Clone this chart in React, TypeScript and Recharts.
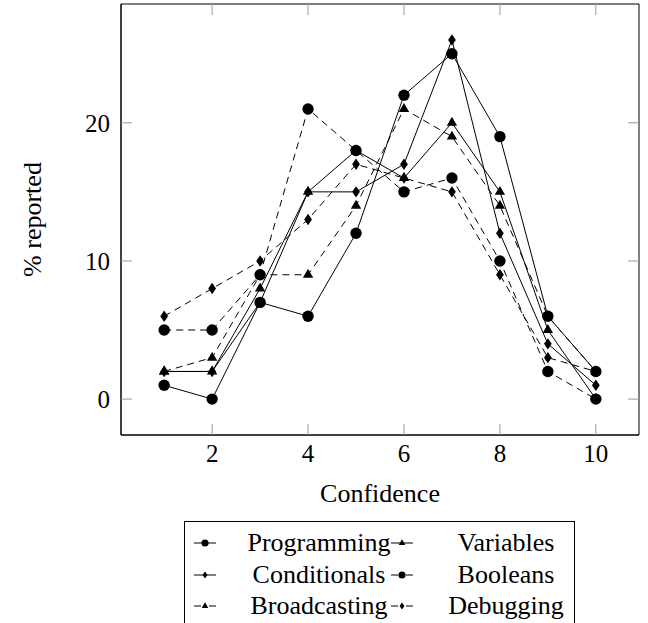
import React from 'react'
import { LineChart, Line, XAxis, YAxis, Label } from 'recharts'

// confidence levels on the x axis
const confidence = [1, 2, 3, 4, 5, 6, 7, 8, 9, 10]
const xTicks = [2, 4, 6, 8, 10]
const yTicks = [0, 10, 20]

// % reported per confidence level
const programming = [1, 0, 7, 6, 12, 22, 25, 19, 6, 2]
const variables = [2, 2, 8, 15, 18, 16, 20, 15, 5, 0]
const conditionals = [2, 2, 7, 15, 15, 17, 26, 12, 4, 1]
const booleans = [5, 5, 9, 21, 18, 15, 16, 10, 2, 0]
const broadcasting = [2, 3, 9, 9, 14, 21, 19, 14, 6, 2]
const debugging = [6, 8, 10, 13, 17, 16, 15, 9, 3, 2]

const FONT = '"Liberation Serif", "Times New Roman", serif'

type Mark = 'circle' | 'triangle' | 'diamond'

const series: { key: string; name: string; values: number[]; mark: Mark; dashed: boolean }[] = [
  { key: 'programming', name: 'Programming', values: programming, mark: 'circle', dashed: false },
  { key: 'variables', name: 'Variables', values: variables, mark: 'triangle', dashed: false },
  { key: 'conditionals', name: 'Conditionals', values: conditionals, mark: 'diamond', dashed: false },
  { key: 'booleans', name: 'Booleans', values: booleans, mark: 'circle', dashed: true },
  { key: 'broadcasting', name: 'Broadcasting', values: broadcasting, mark: 'triangle', dashed: true },
  { key: 'debugging', name: 'Debugging', values: debugging, mark: 'diamond', dashed: true },
]

const data = confidence.map((c, i) => {
  const row: any = { conf: c }
  series.forEach(s => { row[s.key] = s.values[i] })
  return row
})

function shape(mark: Mark, cx: number, cy: number, size: number, key?: any) {
  if (mark === 'circle') return <circle key={key} cx={cx} cy={cy} r={size} fill="#000" />
  if (mark === 'triangle') {
    const r = size * 1.05
    const pts = `${cx},${cy - r} ${cx - r * 0.866},${cy + r / 2} ${cx + r * 0.866},${cy + r / 2}`
    return <polygon key={key} points={pts} fill="#000" />
  }
  const h = size, w = size * 0.68
  const pts = `${cx},${cy - h} ${cx + w},${cy} ${cx},${cy + h} ${cx - w},${cy}`
  return <polygon key={key} points={pts} fill="#000" />
}

// tick lines only, no label
const NoLabel = () => <g />

// axis titles drawn from the axis viewBox
const XTitle = (p: any) => {
  const vb = p.viewBox
  return <text x={vb.x + vb.width / 2} y={vb.y + 67} textAnchor="middle" fontFamily={FONT} fontSize={26} fill="#000">Confidence</text>
}
const YTitle = (p: any) => {
  const vb = p.viewBox
  const x = vb.x + 41, y = vb.y + vb.height / 2
  return <text x={x} y={y} transform={`rotate(-90, ${x}, ${y})`} textAnchor="middle" fontFamily={FONT} fontSize={26} fill="#000">% reported</text>
}

function Legend() {
  const markX = [20, 217]
  const textX = [134, 321]
  const rowY = [21, 53, 84]
  return (
    <div style={{ position: 'absolute', left: 184, top: 521, width: 391, height: 106, border: '1px solid #000', boxSizing: 'border-box', background: '#fff' }}>
      <svg width={389} height={104} style={{ display: 'block' }}>
        {series.map((s, i) => {
          const col = i % 2, row = Math.floor(i / 2)
          const mx = markX[col], y = rowY[row]
          return (
            <g key={s.key}>
              <line x1={mx - 11} x2={mx + 11} y1={y} y2={y} stroke="#000" strokeWidth={1} strokeDasharray={s.dashed ? '7 8' : undefined} />
              {shape(s.mark, mx, y, 3.6)}
              <text x={textX[col]} y={y + 8} textAnchor="middle" fontFamily={FONT} fontSize={26} fill="#000">{s.name}</text>
            </g>
          )
        })}
      </svg>
    </div>
  )
}

export default function App() {
  const tickStyle = { fontFamily: FONT, fontSize: 25, fill: '#000' }
  const xDom: [number, number] = [0.1, 10.9]
  const yDom: [number, number] = [-2.6, 28.6]
  return (
    <div style={{ position: 'absolute', left: 0, top: 0, width: 648, height: 623, background: '#fff', overflow: 'hidden' }}>
      <LineChart width={648} height={623} data={data} margin={{ top: 4, right: 9, bottom: 0, left: 0 }}>
        <XAxis xAxisId="x" dataKey="conf" type="number" domain={xDom} allowDataOverflow ticks={xTicks} interval={0}
          height={188} tickLine={false} tickSize={0} tickMargin={9} tick={tickStyle} axisLine={{ stroke: '#000' }}>
          <Label content={XTitle} />
        </XAxis>
        <XAxis xAxisId="xtop" dataKey="conf" orientation="top" mirror type="number" domain={xDom} allowDataOverflow ticks={xTicks} interval={0}
          tick={NoLabel} tickSize={11} tickLine={{ stroke: '#999' }} axisLine={{ stroke: '#000' }} />
        <XAxis xAxisId="xbot" dataKey="conf" orientation="bottom" mirror type="number" domain={xDom} allowDataOverflow ticks={xTicks} interval={0}
          tick={NoLabel} tickSize={11} tickLine={{ stroke: '#999' }} axisLine={{ stroke: '#000' }} />
        <YAxis yAxisId="y" type="number" domain={yDom} allowDataOverflow ticks={yTicks} interval={0}
          width={121} tickLine={false} tickSize={0} tickMargin={11} tick={tickStyle} axisLine={{ stroke: '#000' }}>
          <Label content={YTitle} />
        </YAxis>
        <YAxis yAxisId="yleft" orientation="left" mirror type="number" domain={yDom} allowDataOverflow ticks={yTicks} interval={0}
          tick={NoLabel} tickSize={11} tickLine={{ stroke: '#999' }} axisLine={{ stroke: '#000' }} />
        <YAxis yAxisId="yright" orientation="right" mirror type="number" domain={yDom} allowDataOverflow ticks={yTicks} interval={0}
          tick={NoLabel} tickSize={11} tickLine={{ stroke: '#999' }} axisLine={{ stroke: '#000' }} />
        {series.map(s => (
          <Line key={s.key} xAxisId="x" yAxisId="y" type="linear" dataKey={s.key} name={s.name}
            stroke="#000" strokeWidth={1} strokeDasharray={s.dashed ? '7 5' : undefined}
            dot={(p: any) => shape(s.mark, p.cx, p.cy, 5.7, `${s.key}-${p.index}`)}
            activeDot={false} isAnimationActive={false} />
        ))}
      </LineChart>
      <Legend />
    </div>
  )
}
